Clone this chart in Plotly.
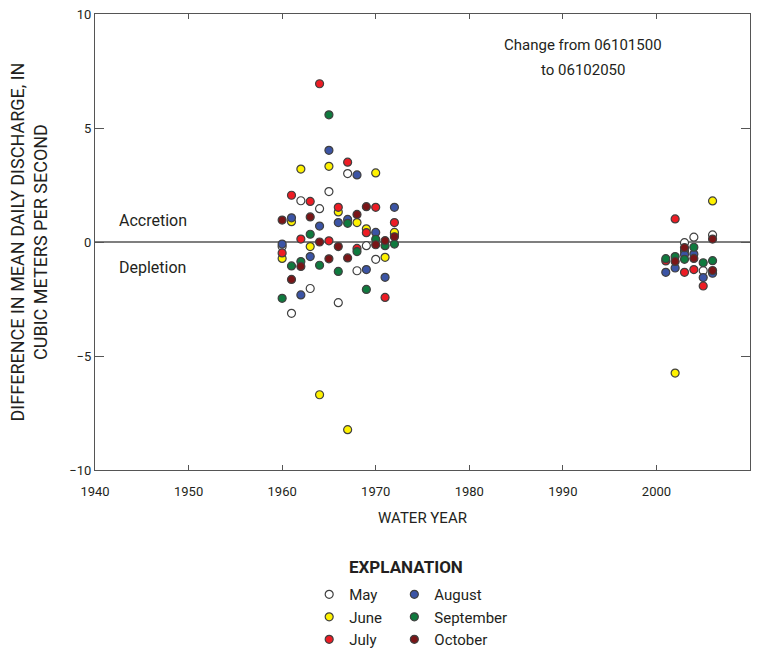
import plotly.graph_objects as go

FONT = "Roboto, Arial, sans-serif"

months = ["May", "June", "July", "August", "September", "October"]
colors = ["#ffffff", "#fff200", "#ed1c24", "#3b54a5", "#0f7a3e", "#7a1517"]

may_x = [1960, 1961, 1962, 1963, 1964, 1965, 1966, 1967, 1968, 1969, 1970, 1972,
         2003, 2004, 2005, 2006]
may_y = [-0.2, -3.13, 1.81, -2.04, 1.46, 2.21, -2.66, 3.0, -1.26, -0.16, -0.76, 0.35,
         -0.03, 0.21, -1.26, 0.31]

june_x = [1960, 1961, 1962, 1963, 1964, 1965, 1966, 1967, 1968, 1969, 1970, 1971, 1972,
          2002, 2003, 2006]
june_y = [-0.72, 0.89, 3.2, -0.2, -6.70, 3.32, 1.32, -8.23, 0.85, 0.58, 3.03, -0.67, 0.42,
          -5.75, -0.4, 1.80]

july_x = [1960, 1961, 1962, 1963, 1964, 1965, 1966, 1967, 1968, 1969, 1970, 1971, 1972,
          2001, 2002, 2003, 2004, 2005]
july_y = [-0.48, 2.05, 0.13, 1.78, 6.94, 0.05, 1.52, 3.5, -0.28, 0.41, 1.52, -2.43, 0.85,
          -0.83, 1.01, -1.33, -1.21, -1.93]

aug_x = [1960, 1961, 1962, 1963, 1964, 1965, 1966, 1967, 1968, 1969, 1970, 1971, 1972,
         2001, 2002, 2003, 2004, 2005, 2006]
aug_y = [-0.09, 1.06, -2.32, -0.64, 0.70, 4.02, 0.85, 0.99, 2.94, -1.21, 0.42, -1.55, 1.52,
         -1.33, -1.14, -0.55, -0.53, -1.56, -1.37]

sep_x = [1960, 1961, 1962, 1963, 1964, 1965, 1966, 1967, 1968, 1969, 1970, 1971, 1972,
         2001, 2002, 2003, 2004, 2005, 2006]
sep_y = [-2.47, -1.05, -0.86, 0.34, -1.02, 5.58, -1.29, 0.82, -0.42, -2.08, 0.12, -0.16, -0.09,
         -0.73, -0.64, -0.76, -0.23, -0.91, -0.82]

oct_x = [1960, 1961, 1962, 1963, 1964, 1965, 1966, 1967, 1968, 1969, 1970, 1971, 1972,
         2002, 2003, 2004, 2006, 2006]
oct_y = [0.96, -1.64, -1.07, 1.1, 0.0, -0.74, -0.2, -0.70, 1.21, 1.55, -0.12, 0.06, 0.23,
         -0.85, -0.25, -0.72, 0.13, -1.25]

series_x = [may_x, june_x, july_x, aug_x, sep_x, oct_x]
series_y = [may_y, june_y, july_y, aug_y, sep_y, oct_y]

TXT = "#231f20"

fig = go.Figure()
for i, (m, c, xs, ys) in enumerate(zip(months, colors, series_x, series_y)):
    fig.add_trace(go.Scatter(
        x=xs, y=ys, mode="markers", name=m,
        marker=dict(size=8, color=c, line=dict(color="#404040", width=1.2)),
        legend="legend" if i < 3 else "legend2",
    ))

fig.add_hline(y=0, line=dict(color="black", width=1.2), layer="below")

axis_common = dict(
    showline=True, linecolor="#555555", linewidth=1.2, mirror="ticks",
    ticks="inside", tickcolor="#555555", showgrid=False, zeroline=False,
    tickfont=dict(family=FONT, size=13, color=TXT),
)
fig.update_xaxes(range=[1940, 2010], tickvals=[1940, 1950, 1960, 1970, 1980, 1990, 2000, 2010],
                 ticklen=5, ticklabelstandoff=9,
                 title=dict(text="WATER YEAR", font=dict(family=FONT, size=15, color=TXT), standoff=14),
                 **axis_common)
fig.update_yaxes(range=[-10, 10], tickvals=[-10, -5, 0, 5, 10], ticklen=9,
                 title=dict(text="DIFFERENCE IN MEAN DAILY DISCHARGE, IN<br>CUBIC METERS PER SECOND",
                            font=dict(family=FONT, size=18, color=TXT), standoff=16),
                 **axis_common)

legend_common = dict(
    orientation="v", bgcolor="rgba(0,0,0,0)", yanchor="top", xanchor="left",
    font=dict(family=FONT, size=15, color=TXT), tracegroupgap=0,
    itemsizing="trace", itemwidth=30,
)
fig.update_layout(
    width=762, height=651,
    margin=dict(l=95, r=12, t=14, b=181, autoexpand=False),
    plot_bgcolor="white", paper_bgcolor="white",
    showlegend=True,
    legend=dict(x=0.327, y=-0.237, **legend_common),
    legend2=dict(x=0.457, y=-0.237, **legend_common),
    annotations=[
        dict(text="Change from 06101500", xref="paper", yref="paper",
             x=0.745, y=0.932, xanchor="center", yanchor="middle", showarrow=False,
             font=dict(family=FONT, size=15, color=TXT)),
        dict(text="to 06102050", xref="paper", yref="paper",
             x=0.745, y=0.877, xanchor="center", yanchor="middle", showarrow=False,
             font=dict(family=FONT, size=15, color=TXT)),
        dict(text="Accretion", xref="x", yref="y", x=1942.3, y=0.95, xanchor="left",
             yanchor="middle", showarrow=False, font=dict(family=FONT, size=16, color=TXT)),
        dict(text="Depletion", xref="x", yref="y", x=1942.3, y=-1.1, xanchor="left",
             yanchor="middle", showarrow=False, font=dict(family=FONT, size=16, color=TXT)),
        dict(text="<b>EXPLANATION</b>", xref="paper", yref="paper", x=0.475, y=-0.2127,
             xanchor="center", yanchor="middle", showarrow=False,
             font=dict(family=FONT, size=17, color=TXT)),
    ],
)

fig.write_html("out.html")
